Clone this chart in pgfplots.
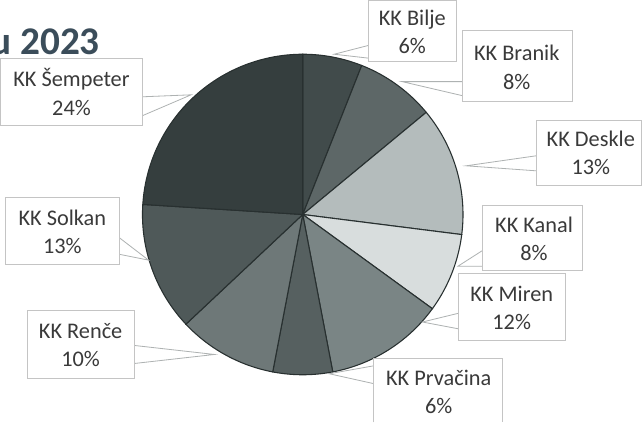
\documentclass[border=0pt]{standalone}
\usepackage{pgfplots}
\pgfplotsset{compat=1.18}
\usepackage{fontspec}
\setmainfont{Carlito}
\definecolor{cBilje}{HTML}{414B4B}
\definecolor{cBranik}{HTML}{5D6767}
\definecolor{cDeskle}{HTML}{B4BCBC}
\definecolor{cKanal}{HTML}{D8DDDD}
\definecolor{cMiren}{HTML}{7A8585}
\definecolor{cPrvacina}{HTML}{566060}
\definecolor{cRence}{HTML}{6E7878}
\definecolor{cSolkan}{HTML}{4F5959}
\definecolor{cSempeter}{HTML}{353E3E}
\definecolor{sliceline}{HTML}{283030}
\definecolor{boxline}{HTML}{C4C4C4}
\definecolor{tailline}{HTML}{AEB2B2}
\definecolor{labtext}{HTML}{3A3A3A}
\definecolor{titlecol}{HTML}{3B4D5A}
\tikzset{lab/.style={font=\fontsize{16.5}{21}\selectfont, text=labtext, align=center, inner sep=0pt}}
\begin{document}
\begin{tikzpicture}
\begin{axis}[
  width=481.5pt, height=321pt, scale only axis,
  xmin=0, xmax=642, ymin=0, ymax=428, y dir=reverse,
  hide axis, clip=false,
]
\def\angstart{0}
\pgfplotsforeachungrouped \p/\c in {6/cBilje,8/cBranik,13/cDeskle,8/cKanal,12/cMiren,6/cPrvacina,10/cRence,13/cSolkan,24/cSempeter}{%
  \pgfmathsetmacro\angend{\angstart+3.6*\p}%
  \edef\doslice{\noexpand\addplot[fill=\c, draw=sliceline, line width=0.8pt, domain=\angstart:\angend, samples=60, variable=\noexpand\t] ({307+158*sin(\noexpand\t)},{223-158*cos(\noexpand\t)}) -- (axis cs:307,223) -- cycle;}%
  \doslice
  \global\let\angstart\angend
}
% title fragment
\node[anchor=base west, inner sep=0pt, text=titlecol, font=\fontsize{29}{31}\selectfont\bfseries] at (axis cs:106,65) {\makebox[0pt][r]{u 2023}};
% tails
\begin{scope}[tailline, line width=0.6pt, fill=white]
\filldraw (axis cs:148,107) -- (axis cs:197,105) -- (axis cs:148,126);
\filldraw (axis cs:373,56) -- (axis cs:338,65) -- (axis cs:373,69);
\filldraw (axis cs:465,92) -- (axis cs:405,92) -- (axis cs:465,106);
\filldraw (axis cs:538,165) -- (axis cs:468,175) -- (axis cs:538,180);
\filldraw (axis cs:485,258) -- (axis cs:460,274) -- (axis cs:485,274);
\filldraw (axis cs:462,320) -- (axis cs:425,329) -- (axis cs:462,336);
\filldraw (axis cs:378,372) -- (axis cs:333,380) -- (axis cs:378,390);
\filldraw (axis cs:140,352) -- (axis cs:220,361) -- (axis cs:140,370);
\filldraw (axis cs:125,245) -- (axis cs:155,268) -- (axis cs:125,262);
\end{scope}
% boxes
\begin{scope}[boxline, line width=0.7pt]
\filldraw[fill=white] (axis cs:9,69) rectangle (axis cs:149,135);
\filldraw[fill=white] (axis cs:372,12) rectangle (axis cs:459,72);
\filldraw[fill=white] (axis cs:464,42) rectangle (axis cs:573,112);
\filldraw[fill=white] (axis cs:537,130) rectangle (axis cs:641,194);
\filldraw[fill=white] (axis cs:484,214) rectangle (axis cs:583,278);
\filldraw[fill=white] (axis cs:461,281) rectangle (axis cs:566,347);
\fill[white] (axis cs:377,365) rectangle (axis cs:504,428);
\draw (axis cs:377,428) -- (axis cs:377,365) -- (axis cs:504,365) -- (axis cs:504,428);
\filldraw[fill=white] (axis cs:36,318) rectangle (axis cs:141,385);
\filldraw[fill=white] (axis cs:14,206) rectangle (axis cs:126,272);
\end{scope}
% texts
\node[lab] at (axis cs:79,102) {KK Šempeter\\24\%};
\node[lab] at (axis cs:415,43) {KK Bilje\\6\%};
\node[lab] at (axis cs:518,78) {KK Branik\\8\%};
\node[lab] at (axis cs:591,162) {KK Deskle\\13\%};
\node[lab] at (axis cs:535,247) {KK Kanal\\8\%};
\node[lab] at (axis cs:513,315) {KK Miren\\12\%};
\node[lab] at (axis cs:441,398) {KK Prvačina\\6\%};
\node[lab] at (axis cs:88,352) {KK Renče\\10\%};
\node[lab] at (axis cs:70,240) {KK Solkan\\13\%};
\end{axis}
\end{tikzpicture}
\end{document}
